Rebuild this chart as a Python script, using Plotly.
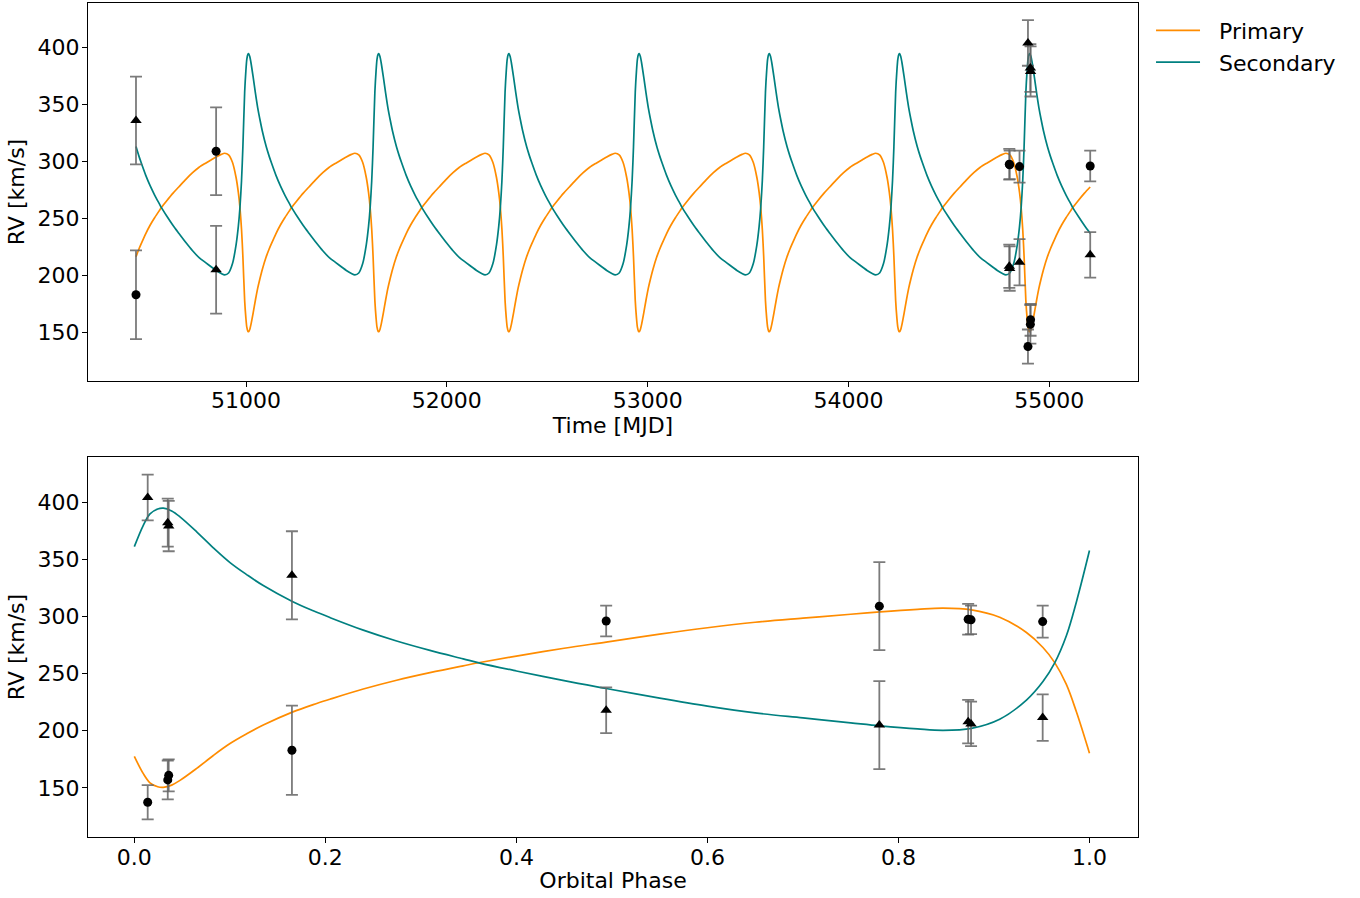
import plotly.graph_objects as go

obs_mjd = [50452, 50851, 54801, 54803, 54852, 54894, 54906, 54907, 55204]
obs_phase = [0.165, 0.780, 0.873, 0.876, 0.951, 0.014, 0.035, 0.036, 0.494]
rv_primary = [183, 309, 297.5, 297, 295.5, 137.5, 157, 161, 296]
err_primary = [39, 38.5, 13.5, 12.5, 14, 15, 17, 14, 13.5]
rv_secondary = [336, 205, 208, 206, 211.5, 404, 382, 379, 218]
err_secondary = [38.5, 38.5, 19, 19.5, 20.3, 20, 21, 22, 20]

# ---------------- Model curve over one orbital cycle ----------------
model_phase = [0.000, 0.0094, 0.0164, 0.0245, 0.0304, 0.0391, 0.0478, 0.0653, 0.0827,
               0.1002, 0.1176, 0.1350, 0.1654, 0.1873, 0.2048, 0.2397, 0.2746, 0.3095,
               0.3443, 0.3618, 0.40, 0.45, 0.494, 0.55, 0.60, 0.65, 0.70, 0.75, 0.7808,
               0.82, 0.8467, 0.8764, 0.906, 0.934, 0.9513, 0.9636, 0.9758, 0.9863, 1.000]
model_primary = [177.6, 162.5, 154.5, 151.0, 150.5, 152.5, 156.6, 167.1, 178.4,
                 188.8, 197.3, 205.0, 216.3, 222.9, 227.6, 236.5, 244.2, 250.8,
                 256.8, 259.7, 265.3, 272.2, 277.6, 284.5, 290.1, 294.9, 298.5, 301.9, 304.0,
                 306.2, 307.2, 305.8, 299.3, 285.9, 272.8, 259.6, 240.5, 216.6, 180.4]
model_secondary = [361.0, 379.7, 389.7, 394.0, 394.7, 392.2, 387.1, 374.0, 360.0,
                   347.1, 336.6, 327.0, 313.1, 304.9, 299.0, 288.0, 278.5, 270.3,
                   262.9, 259.2, 252.3, 243.8, 237.0, 228.6, 221.6, 215.6, 211.2, 206.9, 204.3,
                   201.6, 200.4, 202.1, 210.1, 226.8, 243.0, 259.4, 283.1, 312.7, 357.6]

period = 648.4      # days
epoch = 50344.8     # MJD of phase 0

# Unfold the one-cycle model onto the time axis (between first and last observation)
t_start, t_end = min(obs_mjd), max(obs_mjd)
curve_t, curve_p, curve_s = [], [], []
for k in range(0, 9):
    for ph, p, s in zip(model_phase[:-1], model_primary[:-1], model_secondary[:-1]):
        t = epoch + period * (k + ph)
        if t_start - 1 <= t <= t_end + 1:
            curve_t.append(t)
            curve_p.append(p)
            curve_s.append(s)

ORANGE = "#FF8C00"
TEAL = "#008080"
ERRC = "rgba(100,100,100,0.85)"
FONT = "DejaVu Sans"
NBSP = "\u00a0"

fig = go.Figure()

# ---- top panel: time series ----
fig.add_trace(go.Scatter(x=curve_t, y=curve_p, mode="lines", name=NBSP * 2 + "Primary",
                         line=dict(color=ORANGE, width=1.7, shape="spline", smoothing=0.7),
                         xaxis="x", yaxis="y"))
fig.add_trace(go.Scatter(x=curve_t, y=curve_s, mode="lines", name=NBSP * 2 + "Secondary",
                         line=dict(color=TEAL, width=1.7, shape="spline", smoothing=0.7),
                         xaxis="x", yaxis="y"))
fig.add_trace(go.Scatter(x=obs_mjd, y=rv_primary, mode="markers", showlegend=False,
                         marker=dict(symbol="circle", size=9, color="black"),
                         error_y=dict(type="data", array=err_primary, color=ERRC, thickness=1.8, width=6),
                         xaxis="x", yaxis="y"))
fig.add_trace(go.Scatter(x=obs_mjd, y=rv_secondary, mode="markers", showlegend=False,
                         marker=dict(symbol="triangle-up", size=10, color="black"),
                         error_y=dict(type="data", array=err_secondary, color=ERRC, thickness=1.8, width=6),
                         xaxis="x", yaxis="y"))

# ---- bottom panel: phase folded ----
fig.add_trace(go.Scatter(x=model_phase, y=model_primary, mode="lines", showlegend=False,
                         line=dict(color=ORANGE, width=1.7, shape="spline"),
                         xaxis="x2", yaxis="y2"))
fig.add_trace(go.Scatter(x=model_phase, y=model_secondary, mode="lines", showlegend=False,
                         line=dict(color=TEAL, width=1.7, shape="spline"),
                         xaxis="x2", yaxis="y2"))
fig.add_trace(go.Scatter(x=obs_phase, y=rv_primary, mode="markers", showlegend=False,
                         marker=dict(symbol="circle", size=9, color="black"),
                         error_y=dict(type="data", array=err_primary, color=ERRC, thickness=1.8, width=6),
                         xaxis="x2", yaxis="y2"))
fig.add_trace(go.Scatter(x=obs_phase, y=rv_secondary, mode="markers", showlegend=False,
                         marker=dict(symbol="triangle-up", size=10, color="black"),
                         error_y=dict(type="data", array=err_secondary, color=ERRC, thickness=1.8, width=6),
                         xaxis="x2", yaxis="y2"))

axis_common = dict(showline=True, linecolor="black", linewidth=1.2, mirror=True,
                   ticks="outside", ticklen=5, tickwidth=1.2, tickcolor="black",
                   showgrid=False, zeroline=False, automargin=False,
                   tickfont=dict(family=FONT, size=22, color="black"))

fig.update_layout(
    width=1360, height=898,
    margin=dict(l=88, r=222, t=3, b=61, autoexpand=False),
    paper_bgcolor="white", plot_bgcolor="white",
    font=dict(family=FONT, size=22, color="black"),
    showlegend=True,
    legend=dict(x=1.0124, y=0.992, xanchor="left", yanchor="top", itemwidth=44,
                font=dict(family=FONT, size=22, color="black"),
                bgcolor="rgba(0,0,0,0)", borderwidth=0),
    xaxis=dict(domain=[0, 1], anchor="y", range=[50213, 55442],
               tickvals=[51000, 52000, 53000, 54000, 55000], tickformat="d",
               ticklabelstandoff=-5,
               title=dict(text="Time [MJD]", standoff=4, font=dict(family=FONT, size=22)),
               **axis_common),
    yaxis=dict(domain=[0.5468, 1], anchor="x", range=[107.3, 439.1],
               tickvals=[150, 200, 250, 300, 350, 400], ticklabelstandoff=-2,
               title=dict(text="RV [km/s]", standoff=6, font=dict(family=FONT, size=22)),
               **axis_common),
    xaxis2=dict(domain=[0, 1], anchor="y2", range=[-0.0485, 1.0508],
                tickvals=[0.0, 0.2, 0.4, 0.6, 0.8, 1.0], tickformat=".1f",
                ticklabelstandoff=-5,
                title=dict(text="Orbital Phase", standoff=4, font=dict(family=FONT, size=22)),
                **axis_common),
    yaxis2=dict(domain=[0, 0.4556], anchor="x2", range=[107.1, 439.4],
                tickvals=[150, 200, 250, 300, 350, 400], ticklabelstandoff=-2,
                title=dict(text="RV [km/s]", standoff=6, font=dict(family=FONT, size=22)),
                **axis_common),
)

fig.write_html("out.html", config={"displayModeBar": False},
               post_script="document.body.style.margin='0';document.body.style.overflow='hidden';")
